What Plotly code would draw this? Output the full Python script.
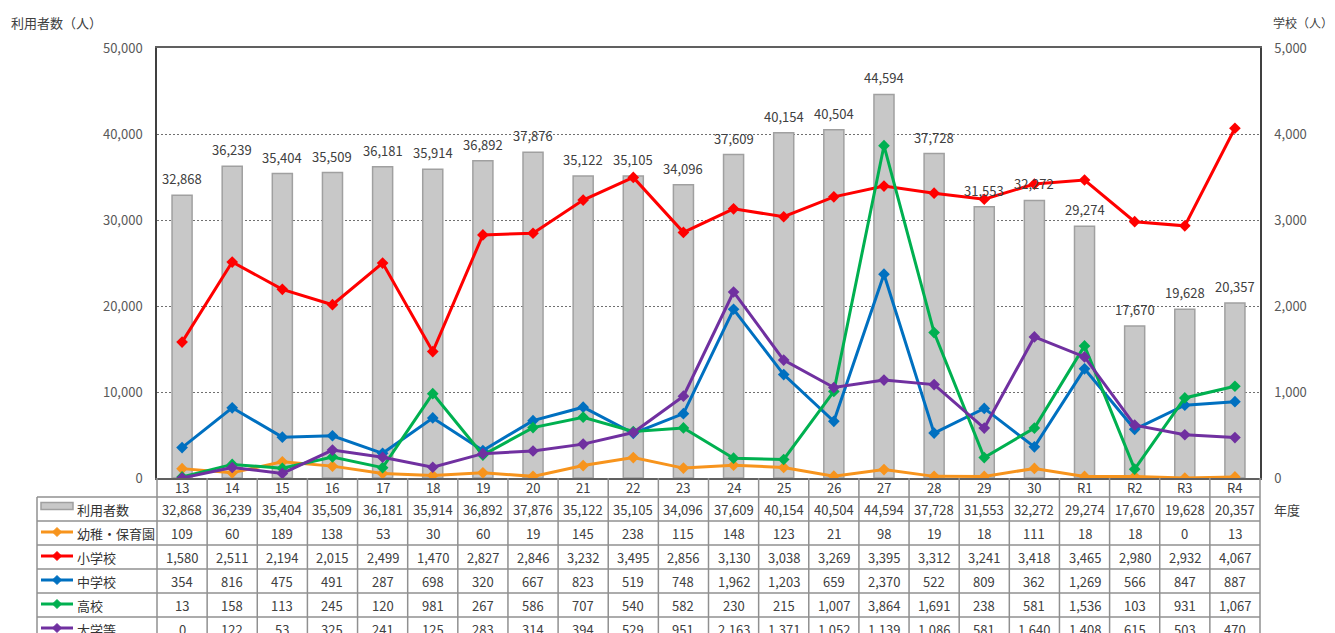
import plotly.graph_objects as go

# ---------------- data ----------------
years = ["13", "14", "15", "16", "17", "18", "19", "20", "21", "22", "23", "24",
         "25", "26", "27", "28", "29", "30", "R1", "R2", "R3", "R4"]
users_total = [32868, 36239, 35404, 35509, 36181, 35914, 36892, 37876, 35122, 35105, 34096,
               37609, 40154, 40504, 44594, 37728, 31553, 32272, 29274, 17670, 19628, 20357]
kinder = [109, 60, 189, 138, 53, 30, 60, 19, 145, 238, 115, 148, 123, 21, 98, 19, 18, 111, 18, 18, 0, 13]
elementary = [1580, 2511, 2194, 2015, 2499, 1470, 2827, 2846, 3232, 3495, 2856, 3130, 3038, 3269,
              3395, 3312, 3241, 3418, 3465, 2980, 2932, 4067]
junior_high = [354, 816, 475, 491, 287, 698, 320, 667, 823, 519, 748, 1962, 1203, 659, 2370, 522,
               809, 362, 1269, 566, 847, 887]
high_school = [13, 158, 113, 245, 120, 981, 267, 586, 707, 540, 582, 230, 215, 1007, 3864, 1691,
               238, 581, 1536, 103, 931, 1067]
university = [0, 122, 53, 325, 241, 125, 283, 314, 394, 529, 951, 2163, 1371, 1052, 1139, 1086,
              581, 1640, 1408, 615, 503, 470]

bar_name = "利用者数"
line_names = ["幼稚・保育園", "小学校", "中学校", "高校", "大学等"]
line_values = [kinder, elementary, junior_high, high_school, university]
line_colors = ["#f7941d", "#ff0000", "#0070c0", "#00b050", "#7030a0"]

left_ticks = [0, 10000, 20000, 30000, 40000, 50000]
right_ticks = [0, 1000, 2000, 3000, 4000, 5000]

# ---------------- layout geometry ----------------
OFF = 8                                   # page body margin
W, H = 1335 - OFF, 633 - OFF
L, R, T, B = 157, 1260, 48, 478           # plot area in screen pixels
FONT = "Noto Sans CJK JP"
TXT = "#404040"
GRIDC = "#909090"


def px_x(p):
    return (p - L) / (R - L)


def px_y(p):
    return (B - p) / (B - T)


fig = go.Figure()

fig.add_trace(go.Bar(
    x=years, y=users_total, name=bar_name, yaxis="y",
    marker=dict(color="#c8c8c8", line=dict(color="#a0a0a0", width=1.5)),
    width=0.4,
))

for name, vals, col in zip(line_names, line_values, line_colors):
    fig.add_trace(go.Scatter(
        x=years, y=vals, name=name, yaxis="y2", mode="lines+markers",
        line=dict(color=col, width=3),
        marker=dict(symbol="diamond", size=9, color=col),
    ))

annotations = []
# bar value labels
for i, v in enumerate(users_total):
    annotations.append(dict(x=i, y=v, xref="x", yref="y", text=f"{v:,}", showarrow=False,
                            yanchor="bottom", yshift=5, font=dict(size=13, color=TXT, family=FONT)))

# data table
row_edges = [497, 521, 545, 569, 593, 617, 641]
row_centers = [(row_edges[i] + row_edges[i + 1]) / 2 for i in range(6)]
cat_center = (B + row_edges[0]) / 2

for i, xv in enumerate(years):
    annotations.append(dict(x=i, y=px_y(cat_center), xref="x", yref="paper", text=xv,
                            showarrow=False, yanchor="middle",
                            font=dict(size=13, color=TXT, family=FONT)))

table_rows = [users_total] + line_values
for r, vals in enumerate(table_rows):
    for i, v in enumerate(vals):
        annotations.append(dict(x=i, y=px_y(row_centers[r]), xref="x", yref="paper",
                                text=f"{v:,}", showarrow=False, yanchor="middle",
                                font=dict(size=13, color=TXT, family=FONT)))

row_labels = [bar_name] + line_names
for r, lab in enumerate(row_labels):
    annotations.append(dict(x=px_x(75), y=px_y(row_centers[r]), xref="paper", yref="paper",
                            text=lab, showarrow=False, xanchor="left", yanchor="middle",
                            font=dict(size=13, color="#333333", family=FONT)))

# axis titles
annotations.append(dict(x=px_x(9), y=px_y(22), xref="paper", yref="paper", text="利用者数（人）",
                        showarrow=False, xanchor="left", yanchor="middle",
                        font=dict(size=13, color=TXT, family=FONT)))
annotations.append(dict(x=px_x(1271), y=px_y(22), xref="paper", yref="paper", text="学校（人）",
                        showarrow=False, xanchor="left", yanchor="middle",
                        font=dict(size=12, color=TXT, family=FONT)))
annotations.append(dict(x=px_x(1272), y=px_y(row_centers[0]), xref="paper", yref="paper",
                        text="年度", showarrow=False, xanchor="left", yanchor="middle",
                        font=dict(size=13, color=TXT, family=FONT)))

shapes = []
lc = dict(color=GRIDC, width=1.5)
# horizontal table lines
for e in row_edges:
    shapes.append(dict(type="line", xref="paper", yref="paper", x0=px_x(37), x1=1,
                       y0=px_y(e), y1=px_y(e), line=lc))
# vertical table lines
shapes.append(dict(type="line", xref="paper", yref="paper", x0=px_x(37), x1=px_x(37),
                   y0=px_y(row_edges[0]), y1=px_y(row_edges[-1]), line=lc))
for xp in (0, 1):
    shapes.append(dict(type="line", xref="paper", yref="paper", x0=xp, x1=xp,
                       y0=0, y1=px_y(row_edges[-1]), line=lc))
for k in range(1, len(years)):
    shapes.append(dict(type="line", xref="x", yref="paper", x0=k - 0.5, x1=k - 0.5,
                       y0=0, y1=px_y(row_edges[-1]), line=lc))

# legend keys inside the table
kx0, kx1, kxc = 41, 73, 57
shapes.append(dict(type="rect", xref="paper", yref="paper", x0=px_x(kx0), x1=px_x(kx1),
                   y0=px_y(row_centers[0] - 6.5), y1=px_y(row_centers[0] + 0.5),
                   fillcolor="#c8c8c8", line=dict(color="#a0a0a0", width=1.5)))
for r, col in enumerate(line_colors, start=1):
    yc = row_centers[r] - 1
    shapes.append(dict(type="line", xref="paper", yref="paper", x0=px_x(kx0), x1=px_x(kx1),
                       y0=px_y(yc), y1=px_y(yc), line=dict(color=col, width=3)))
    d = 4.5
    path = (f"M {px_x(kxc - d)} {px_y(yc)} L {px_x(kxc)} {px_y(yc - d)} "
            f"L {px_x(kxc + d)} {px_y(yc)} L {px_x(kxc)} {px_y(yc + d)} Z")
    shapes.append(dict(type="path", xref="paper", yref="paper", path=path,
                       fillcolor=col, line=dict(color=col, width=1)))

fig.update_layout(
    width=W, height=H, autosize=False,
    margin=dict(l=L - OFF, r=W - (R - OFF), t=T - OFF, b=H - (B - OFF), pad=0),
    paper_bgcolor="white", plot_bgcolor="white",
    showlegend=False,
    font=dict(family=FONT, size=13, color=TXT),
    xaxis=dict(type="category", range=[-0.5, len(years) - 0.5], showticklabels=False,
               showgrid=False, zeroline=False, showline=True, mirror=True,
               linecolor="#606060", linewidth=1.5, ticks=""),
    yaxis=dict(range=[0, 50000], tickvals=left_ticks, tickformat=",", showgrid=True,
               gridcolor="#707070", griddash="2px,2px", gridwidth=1, zeroline=False,
               showline=True, linecolor="#404040", linewidth=1.5, ticks="",
               ticklabelstandoff=10, tickfont=dict(size=13, color="#595959")),
    yaxis2=dict(range=[0, 5000], tickvals=right_ticks, tickformat=",", overlaying="y",
                side="right", showgrid=False, zeroline=False, showline=True,
                linecolor="#404040", linewidth=1.5, ticks="", ticklabelstandoff=10,
                tickfont=dict(size=13, color="#595959")),
    annotations=annotations,
    shapes=shapes,
)

fig.write_html("out.html")
